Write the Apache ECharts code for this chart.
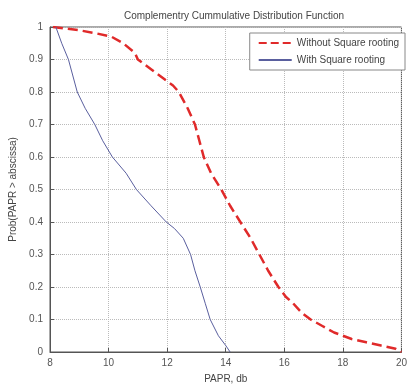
<!DOCTYPE html>
<html>
<head>
<meta charset="utf-8">
<script src="https://cdn.jsdelivr.net/npm/echarts@6/dist/echarts.min.js"></script>
<style>
  html, body { margin: 0; padding: 0; background: #fff; }
  #chart { width: 410px; height: 389px; }
</style>
</head>
<body>
<div id="chart"></div>
<script>
// values
var withoutX = [8.1, 9.0, 9.6, 10.1, 10.5, 10.9, 11.0, 11.45, 11.9, 12.2, 12.4, 12.7, 12.95, 13.1, 13.25, 13.5, 13.85, 14.15, 14.5, 14.85, 15.15, 15.45, 15.8, 16.05, 16.3, 16.6, 16.9, 17.3, 17.7, 18.3, 18.8, 19.3, 19.8, 20.0];
var withoutY = [1.0, 0.99, 0.98, 0.97, 0.95, 0.92, 0.9, 0.87, 0.84, 0.82, 0.8, 0.75, 0.7, 0.65, 0.6, 0.55, 0.5, 0.45, 0.4, 0.35, 0.3, 0.25, 0.2, 0.17, 0.15, 0.12, 0.1, 0.08, 0.06, 0.04, 0.03, 0.02, 0.01, 0.0];
var withX = [8.2, 8.4, 8.63, 8.93, 9.2, 9.53, 9.8, 10.13, 10.6, 10.95, 11.45, 11.97, 12.25, 12.55, 12.8, 12.95, 13.13, 13.3, 13.47, 13.75, 14.0, 14.15];
var withY = [1.0, 0.95, 0.9, 0.8, 0.75, 0.7, 0.65, 0.6, 0.55, 0.5, 0.45, 0.4, 0.38, 0.35, 0.3, 0.25, 0.2, 0.15, 0.1, 0.05, 0.02, 0.0];
var seriesNames = ['Without Square rooting', 'With Square rooting'];

function pairs(xs, ys) {
  return xs.map(function (x, i) { return [x, ys[i]]; });
}

var font = 'Liberation Sans, Arial, sans-serif';
var myChart = echarts.init(document.getElementById('chart'));
myChart.setOption({
  animation: false,
  backgroundColor: '#fff',
  title: {
    text: 'Complementry Cummulative Distribution Function',
    left: 229, top: 6, textAlign: 'center',
    textStyle: { fontSize: 10, fontWeight: 'normal', color: '#444', fontFamily: font }
  },
  legend: {
    orient: 'vertical',
    right: 5, top: 33,
    padding: [5, 6, 5, 8],
    itemGap: 7,
    itemWidth: 33, itemHeight: 8,
    backgroundColor: '#fff',
    borderColor: '#888', borderWidth: 1,
    itemStyle: { opacity: 0 },
    textStyle: { fontSize: 10, color: '#444', fontFamily: font },
    data: seriesNames
  },
  grid: {
    left: 49, right: 3, top: 27, bottom: 34,
    show: true, borderColor: '#555', borderWidth: 1
  },
  xAxis: {
    type: 'value',
    min: 8, max: 20, interval: 2,
    name: 'PAPR, db',
    nameLocation: 'middle', nameGap: 22,
    nameTextStyle: { fontSize: 10, color: '#444', fontFamily: font },
    axisLine: { lineStyle: { color: '#555' } },
    axisTick: { inside: true, length: 4, lineStyle: { color: '#555' } },
    axisLabel: { fontSize: 10, color: '#555', fontFamily: font, margin: 6 },
    splitLine: { lineStyle: { color: '#bbb', type: 'dotted' } }
  },
  yAxis: {
    type: 'value',
    min: 0, max: 1, interval: 0.1,
    name: 'Prob(PAPR > abscissa)',
    nameLocation: 'middle', nameGap: 32,
    nameTextStyle: { fontSize: 10, color: '#444', fontFamily: font },
    axisLine: { show: true, lineStyle: { color: '#555' } },
    axisTick: { show: true, inside: true, length: 4, lineStyle: { color: '#555' } },
    axisLabel: { fontSize: 10, color: '#555', fontFamily: font, margin: 7 },
    splitLine: { lineStyle: { color: '#bbb', type: 'dotted' } }
  },
  series: [
    {
      name: seriesNames[0],
      type: 'line',
      data: pairs(withoutX, withoutY),
      showSymbol: false,
      symbol: 'none',
      lineStyle: { color: '#e02a2a', width: 2.5, type: 'dashed' },
      itemStyle: { color: '#e02a2a' }
    },
    {
      name: seriesNames[1],
      type: 'line',
      data: pairs(withX, withY),
      showSymbol: false,
      symbol: 'none',
      lineStyle: { color: '#5a5f9e', width: 1 },
      itemStyle: { color: '#5a5f9e' }
    }
  ]
});
</script>
</body>
</html>
